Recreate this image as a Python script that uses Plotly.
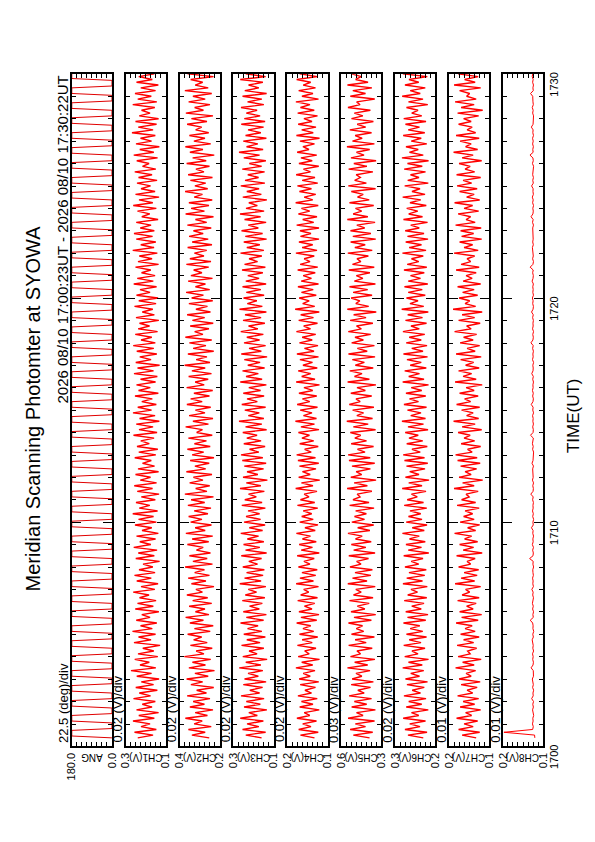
import pandas as pd
import plotly.graph_objects as go

# ---------------- data ----------------
TITLE = "Meridian Scanning Photomter at SYOWA"
SUBTITLE = "2026 08/10 17:00:23UT - 2026 08/10 17:30:22UT"
TIME_LABEL = "TIME(UT)"
AXIS_START = "2026-08-10 17:00:00"
AXIS_END = "2026-08-10 17:30:00"
DATA_START = "2026-08-10 17:00:23"
CH_STEP = "7500ms"
ANG_STEP = "5s"

PANEL_NAMES = ["ANG", "CH1(V)", "CH2(V)", "CH3(V)", "CH4(V)", "CH5(V)", "CH6(V)", "CH7(V)", "CH8(V)"]
SCALE_TEXT = ["22.5 (deg)/div", "0.02 (V)/div", "0.02 (V)/div", "0.02 (V)/div", "0.02 (V)/div",
              "0.03 (V)/div", "0.02 (V)/div", "0.01 (V)/div", "0.01 (V)/div"]
PER_DIV = [22.5, 0.02, 0.02, 0.02, 0.02, 0.03, 0.02, 0.01, 0.01]
N_DIV = 8
RANGE_MIN = [0.0, 0.12, 0.22, 0.12, 0.06, 0.33, 0.17, 0.12, 0.10]
TOP_LABEL = ["180.0", "0.3", "0.4", "0.3", "0.2", "0.6", "0.3", "0.2", "0.2"]
BOTTOM_LABEL = ["0.0", "0.1", "0.2", "0.1", "0.1", "0.3", "0.2", "0.1", "0.1"]

ANG = [0, 180, 180, 180, 180, 0, 0, 0, 0, 180, 180, 180, 180, 0, 0, 0, 0, 180, 180, 180, 180, 0, 0, 0,
       0, 180, 180, 180, 180, 0, 0, 0, 0, 180, 180, 180, 180, 0, 0, 0, 0, 180, 180, 180, 180, 0, 0, 0,
       0, 180, 180, 180, 180, 0, 0, 0, 0, 180, 180, 180, 180, 0, 0, 0, 0, 180, 180, 180, 180, 0, 0, 0,
       0, 180, 180, 180, 180, 0, 0, 0, 0, 180, 180, 180, 180, 0, 0, 0, 0, 180, 180, 180, 180, 0, 0, 0,
       0, 180, 180, 180, 180, 0, 0, 0, 0, 180, 180, 180, 180, 0, 0, 0, 0, 180, 180, 180, 180, 0, 0, 0,
       0, 180, 180, 180, 180, 0, 0, 0, 0, 180, 180, 180, 180, 0, 0, 0, 0, 180, 180, 180, 180, 0, 0, 0,
       0, 180, 180, 180, 180, 0, 0, 0, 0, 180, 180, 180, 180, 0, 0, 0, 0, 180, 180, 180, 180, 0, 0, 0,
       0, 180, 180, 180, 180, 0, 0, 0, 0, 180, 180, 180, 180, 0, 0, 0, 0, 180, 180, 180, 180, 0, 0, 0,
       0, 180, 180, 180, 180, 0, 0, 0, 0, 180, 180, 180, 180, 0, 0, 0, 0, 180, 180, 180, 180, 0, 0, 0,
       0, 180, 180, 180, 180, 0, 0, 0, 0, 180, 180, 180, 180, 0, 0, 0, 0, 180, 180, 180, 180, 0, 0, 0,
       0, 180, 180, 180, 180, 0, 0, 0, 0, 180, 180, 180, 180, 0, 0, 0, 0, 180, 180, 180, 180, 0, 0, 0,
       0, 180, 180, 180, 180, 0, 0, 0, 0, 180, 180, 180, 180, 0, 0, 0, 0, 180, 180, 180, 180, 0, 0, 0,
       0, 180, 180, 180, 180, 0, 0, 0, 0, 180, 180, 180, 180, 0, 0, 0, 0, 180, 180, 180, 180, 0, 0, 0,
       0, 180, 180, 180, 180, 0, 0, 0, 0, 180, 180, 180, 180, 0, 0, 0, 0, 180, 180, 180, 180, 0, 0, 0,
       0, 180, 180, 180, 180, 0, 0, 0, 0, 180, 180, 180, 180, 0, 0, 0, 0, 180, 180, 180, 180, 0, 0, 0]

# channel values in mV
CH1 = [232,171,245,158,219,183,251,166,228,149,237,175,214,162,249,181,226,154,240,169,
       218,147,236,177,259,160,223,186,244,152,231,168,212,143,247,179,229,161,253,174,
       221,156,238,183,216,148,242,170,233,159,225,187,250,164,219,151,236,178,245,163,
       227,172,211,145,240,166,230,155,248,180,224,161,237,150,215,176,243,158,229,169,
       252,153,226,184,239,162,218,147,234,173,246,157,222,181,241,149,231,165,213,178,
       244,160,228,152,235,186,220,167,249,155,227,171,238,146,225,163,251,177,232,158,
       216,174,243,150,229,182,237,161,221,154,247,169,233,145,240,179,224,156,236,168,
       250,162,219,176,242,153,230,185,225,148,239,166,214,172,245,159,228,151,237,183,
       223,157,248,170,234,163,217,180,241,149,231,175,226,154,252,167,220,160,238,173,
       247,166,222,179,238,151,216,184,233,158,250,172,227,147,241,163,219,181,235,155,
       229,175,244,160,213,187,236,153,248,168,224,146,239,177,221,162,255,171,230,157,
       241,149,226,183,217,164,252,156,232,178,243,161,220,150,237,174,228,166,246,159]
CH2 = [262,331,278,345,254,322,290,357,269,318,247,339,281,326,259,350,273,312,244,335,
       288,352,266,319,241,343,277,329,256,361,283,314,250,337,270,324,292,348,258,321,
       246,339,285,356,263,317,279,342,252,328,268,351,289,315,243,333,275,346,261,320,
       281,358,249,327,270,341,257,313,286,349,264,330,248,355,278,318,253,336,291,344,
       267,322,255,347,280,334,245,359,271,316,260,340,287,325,251,353,276,319,262,338,
       243,330,284,349,258,321,273,345,250,312,289,356,265,327,247,342,279,317,256,351,
       290,336,261,323,248,352,282,318,266,344,253,331,278,360,259,314,271,347,244,326,
       275,341,252,357,287,320,263,338,246,329,280,350,257,315,269,343,248,332,285,354,
       260,317,277,346,249,335,291,324,264,353,255,339,283,321,272,348,251,330,266,342,
       286,325,254,349,272,317,245,356,281,334,263,343,250,322,289,358,268,319,276,337,
       249,346,283,315,261,352,274,328,242,339,287,357,256,323,279,341,264,316,292,350,
       271,333,247,355,285,320,259,344,278,327,252,359,266,318,288,336,245,348,273,324]
CH3 = [168,231,152,244,179,226,161,253,185,219,147,238,173,229,158,250,176,215,164,241,
       150,236,181,222,163,257,171,231,146,243,186,218,159,248,174,227,153,239,167,224,
       182,252,160,229,149,241,177,216,165,245,155,233,188,221,151,255,170,236,162,228,
       157,243,184,219,168,249,148,232,175,240,159,225,180,251,164,217,154,238,172,230,
       176,222,153,247,166,235,189,220,157,254,171,229,145,242,183,226,160,237,150,245,
       163,250,179,216,154,239,170,227,186,243,148,232,167,258,159,221,177,235,152,247,
       185,226,158,241,172,219,149,253,166,230,181,244,156,223,174,237,146,249,169,218,
       152,238,176,227,161,251,183,220,155,242,170,234,149,256,165,225,187,240,158,229,
       171,244,150,231,178,223,163,246,153,236,184,218,167,252,159,227,175,239,148,233,
       164,248,181,221,150,236,172,254,158,230,185,219,147,243,169,227,178,251,155,234,
       180,223,156,245,168,217,151,239,176,258,162,228,183,241,149,232,171,222,160,249,
       154,237,174,229,186,250,159,224,167,244,148,235,179,220,163,253,152,231,182,240]
CH4 = [112,168,97,175,126,159,104,182,131,153,93,171,118,164,101,178,124,150,108,169,
       95,173,129,157,110,186,119,163,92,177,133,151,106,180,121,161,99,172,115,158,
       127,183,103,166,94,174,122,152,111,179,100,167,135,155,96,185,116,170,107,162,
       101,176,130,154,113,181,93,165,120,173,105,160,128,184,109,150,98,171,117,163,
       123,157,99,180,111,168,134,153,102,187,118,164,91,175,129,160,106,172,95,178,
       108,183,125,151,97,171,115,162,132,176,94,166,112,188,104,156,122,169,100,181,
       131,160,103,174,119,154,92,185,110,163,127,177,101,158,120,170,96,182,114,152,
       98,172,121,161,107,184,128,155,100,175,116,167,93,189,111,159,133,173,105,164,
       117,178,96,165,124,157,109,179,99,169,130,153,113,186,102,161,119,174,94,168,
       126,170,94,183,115,159,102,176,131,164,97,187,119,153,107,172,124,180,99,161,
       110,185,128,156,95,174,121,166,103,181,134,158,112,170,92,184,117,163,106,177,
       122,154,100,179,113,168,130,186,96,162,118,175,108,157,127,183,101,171,120,160]
CH5 = [401,498,382,517,425,486,371,529,440,479,366,508,418,492,389,523,433,471,395,511,
       378,505,447,482,398,533,412,490,369,515,455,476,385,526,421,487,372,509,436,480,
       443,527,390,494,364,512,429,474,403,521,380,497,451,483,367,531,416,503,393,488,
       384,518,452,478,407,525,368,496,423,510,391,485,445,530,399,472,376,507,431,491,
       420,484,374,520,404,500,458,475,387,535,414,493,362,513,448,481,396,506,370,524,
       397,529,428,473,377,511,419,489,454,516,365,498,409,537,383,477,437,502,375,522,
       457,482,388,513,426,476,363,532,402,491,446,519,379,486,432,504,368,527,415,474,
       372,508,438,488,394,528,450,479,381,517,422,496,361,534,406,483,459,511,386,499,
       412,521,366,492,441,480,399,525,373,503,453,476,408,531,385,489,427,514,364,501,
       393,515,430,477,368,534,411,499,448,485,376,521,403,473,439,510,365,528,420,490,
       456,481,381,526,417,495,362,512,434,479,400,536,372,503,445,487,389,519,424,475,
       378,509,441,492,396,530,458,478,370,516,425,501,387,533,410,484,451,507,367,497]
CH6 = [218,279,203,291,231,272,209,298,236,265,198,286,224,276,207,295,229,262,214,283,
       201,289,233,268,216,300,222,277,197,292,239,263,211,296,227,274,205,285,220,270,
       232,297,208,281,199,288,226,264,215,294,204,280,241,267,202,299,221,284,212,275,
       206,291,236,266,219,296,196,278,225,287,210,273,234,301,214,262,203,286,223,277,
       228,271,204,294,217,282,242,265,207,302,223,276,195,289,235,272,211,285,200,293,
       213,298,230,263,202,284,220,275,238,290,199,279,217,303,209,268,227,281,205,295,
       237,273,208,287,224,266,197,300,215,276,233,292,206,270,226,283,201,297,219,264,
       203,286,226,274,212,299,234,267,205,289,221,280,198,304,216,271,239,285,210,278,
       222,293,200,278,229,269,214,295,204,282,236,265,218,301,207,274,225,288,199,281,
       215,290,234,268,201,297,221,276,240,284,206,271,228,300,211,263,231,292,198,280,
       235,269,209,294,222,281,197,303,218,273,238,287,204,266,226,298,212,278,233,289,
       207,296,224,264,239,285,200,277,219,302,230,270,210,291,236,275,202,299,225,283]
CH7 = [146,174,139,181,152,170,143,185,155,167,137,178,149,172,141,183,153,164,144,176,
       138,180,156,166,147,187,150,173,136,182,158,163,145,184,151,171,140,177,148,168,
       154,186,142,175,135,179,152,165,146,183,140,174,159,167,137,188,149,176,144,170,
       141,181,157,164,148,185,134,172,151,179,143,169,155,189,147,163,139,178,150,171,
       153,168,140,184,147,175,160,166,142,190,150,173,133,180,156,168,145,177,138,183,
       144,187,154,163,137,176,149,170,158,182,135,174,148,191,141,165,152,175,139,185,
       157,169,142,179,150,166,134,188,146,172,155,181,140,167,151,177,136,186,148,164,
       139,178,152,171,145,189,156,165,138,181,149,174,134,192,147,168,159,180,143,173,
       150,183,137,172,154,166,146,186,140,176,157,164,149,190,142,170,153,179,135,175,
       151,177,136,187,148,166,157,182,141,170,153,189,139,165,150,179,144,184,155,172,
       137,185,149,168,158,180,135,174,152,191,143,167,156,178,140,186,147,164,154,181,
       156,171,141,183,133,176,150,188,146,165,159,179,137,190,148,169,142,182,151,173]
CH8 = [116.5,117.0,178.0,120.8,119.6,121.2,119.9,120.5,118.8,120.3,121.0,119.4,120.6,119.1,122.8,119.7,120.2,118.9,120.9,119.5,
       120.4,121.5,119.2,120.0,119.6,123.9,120.1,119.3,120.7,119.8,121.1,119.0,120.5,119.7,120.2,121.8,119.4,120.6,118.7,120.3,
       119.9,120.8,125.6,119.5,120.4,119.1,120.9,119.6,121.3,120.0,119.2,120.7,119.8,122.4,119.3,120.5,119.9,121.0,119.4,120.2,
       120.6,119.0,120.3,119.7,126.9,120.1,119.5,120.8,119.2,121.4,119.8,120.4,119.1,120.6,119.9,123.2,119.6,120.3,118.9,120.7,
       119.5,121.1,119.8,120.2,119.3,120.9,119.7,124.5,120.0,119.4,120.6,119.1,121.2,119.8,120.3,119.5,120.8,119.2,122.1,120.1,
       119.6,120.5,119.0,120.9,119.7,121.3,120.2,119.4,125.1,120.0,119.5,120.7,119.3,120.4,119.8,121.0,119.1,120.6,119.9,123.6,
       120.2,119.4,120.8,119.6,121.2,119.9,120.3,119.2,120.7,119.5,122.6,120.1,119.7,120.5,119.0,121.1,119.8,120.4,119.3,120.9,
       119.7,124.2,120.3,119.5,120.6,119.1,121.0,119.8,120.2,119.4,120.9,119.6,123.0,120.0,119.3,120.7,119.9,121.4,119.2,120.5,
       119.8,120.6,119.4,121.9,120.1,119.5,120.8,119.7,125.8,120.3,119.2,120.9,119.6,120.4,119.9,121.3,119.5,120.7,119.8,120.2,
       120.1,119.5,120.7,119.2,121.1,119.8,124.0,120.3,119.6,120.5,119.1,120.9,119.7,121.5,119.4,120.2,119.9,122.9,119.5,120.6,
       119.3,120.8,119.9,120.4,119.0,121.2,119.6,120.3,126.2,119.8,120.6,119.4,120.9,119.7,121.0,119.2,120.5,119.9,123.4,120.0,
       119.7,120.4,119.1,120.8,119.8,121.6,119.5,120.2,119.9,120.7,125.0,119.6,120.3,119.2,120.9,119.8,121.7,120.4,119.6,120.5]

CHANNELS_MV = [CH1, CH2, CH3, CH4, CH5, CH6, CH7, CH8]

# ---------------- layout constants (pixels) ----------------
W, H = 595, 842
PLOT_TOP, PLOT_BOT = 66, 759
PANEL_LEFT0, PANEL_W, PANEL_STEP = 59, 41, 55
FONT = "Liberation Sans, Arial, Helvetica, sans-serif"
RED = "#ff0000"


def px_x(x):
    return x / W


def px_y(y):
    return (H - y) / H


ch_times = pd.date_range(DATA_START, periods=len(CH1), freq=CH_STEP)
ang_times = pd.date_range(DATA_START, periods=len(ANG), freq=ANG_STEP)

fig = go.Figure()
annotations = []

for i in range(9):
    n = i + 1
    xs = "x" if n == 1 else f"x{n}"
    ys = "y" if n == 1 else f"y{n}"
    if i == 0:
        fig.add_trace(go.Scatter(x=ANG, y=ang_times, mode="lines",
                                 line=dict(color="#e00000", width=1),
                                 xaxis=xs, yaxis=ys, hoverinfo="skip"))
    else:
        vals = [v / 1000.0 for v in CHANNELS_MV[i - 1]]
        fig.add_trace(go.Scatter(x=vals, y=ch_times, mode="lines",
                                 line=dict(color=RED, width=1.4 if i < 8 else 1),
                                 xaxis=xs, yaxis=ys, hoverinfo="skip"))

    left = PANEL_LEFT0 + i * PANEL_STEP
    vmin = RANGE_MIN[i]
    vmax = vmin + N_DIV * PER_DIV[i]
    tickvals = [vmin + j * PER_DIV[i] for j in range(N_DIV + 1)]
    ticktext = [BOTTOM_LABEL[i]] + [""] * (N_DIV - 1) + [TOP_LABEL[i]]

    xaxis = dict(domain=[px_x(left), px_x(left + PANEL_W)], range=[vmax, vmin],
                 tickmode="array", tickvals=tickvals, ticktext=ticktext,
                 ticks="inside", ticklen=4, tickwidth=1, tickcolor="black",
                 mirror="ticks", showline=True, linecolor="black", linewidth=2,
                 showgrid=False, zeroline=False, tickangle=-90,
                 tickfont=dict(family=FONT, size=11, color="black"),
                 anchor=ys, fixedrange=True)
    last = (i == 8)
    yaxis = dict(domain=[px_y(PLOT_BOT), px_y(PLOT_TOP)], type="date",
                 range=[AXIS_START, AXIS_END], tick0=AXIS_START, dtick=600000,
                 ticks="inside", ticklen=9, tickwidth=1, tickcolor="black",
                 minor=dict(dtick=60000, ticks="inside", ticklen=4, tickcolor="black", tickwidth=1),
                 mirror="ticks", showline=True, linecolor="black", linewidth=2,
                 showgrid=False, zeroline=False, anchor=xs, fixedrange=True,
                 showticklabels=last, side="right" if last else "left",
                 tickformat="%H%M", tickangle=-90, ticklabelshift=12,
                 tickfont=dict(family=FONT, size=11, color="black"))
    fig.layout[f"xaxis{'' if n == 1 else n}"] = xaxis
    fig.layout[f"yaxis{'' if n == 1 else n}"] = yaxis

    # scale text left of each panel
    annotations.append(dict(x=px_x(left - 8.5), y=px_y(PLOT_BOT - 2), xref="paper", yref="paper",
                            text=SCALE_TEXT[i], textangle=-90, showarrow=False,
                            xanchor="center", yanchor="bottom",
                            font=dict(family=FONT, size=13, color="black")))
    # channel name under each panel (upside-down)
    annotations.append(dict(x=px_x(left + PANEL_W / 2), y=px_y(771), xref="paper", yref="paper",
                            text=PANEL_NAMES[i], textangle=180, showarrow=False,
                            xanchor="center", yanchor="middle",
                            font=dict(family=FONT, size=10, color="black")))

annotations.append(dict(x=px_x(19), y=px_y(411), xref="paper", yref="paper", text=TITLE,
                        textangle=-90, showarrow=False, xanchor="center", yanchor="middle",
                        font=dict(family=FONT, size=20, color="black")))
annotations.append(dict(x=px_x(49.5), y=px_y(PLOT_TOP), xref="paper", yref="paper", text=SUBTITLE,
                        textangle=-90, showarrow=False, xanchor="center", yanchor="top",
                        font=dict(family=FONT, size=15, color="black")))
annotations.append(dict(x=px_x(571), y=px_y(418), xref="paper", yref="paper", text=TIME_LABEL,
                        textangle=-90, showarrow=False, xanchor="center", yanchor="middle",
                        font=dict(family=FONT, size=17, color="black")))

fig.update_layout(width=W, height=H, margin=dict(l=0, r=0, t=0, b=0),
                  paper_bgcolor="white", plot_bgcolor="white", showlegend=False,
                  annotations=annotations)

fig.write_html("out.html")
